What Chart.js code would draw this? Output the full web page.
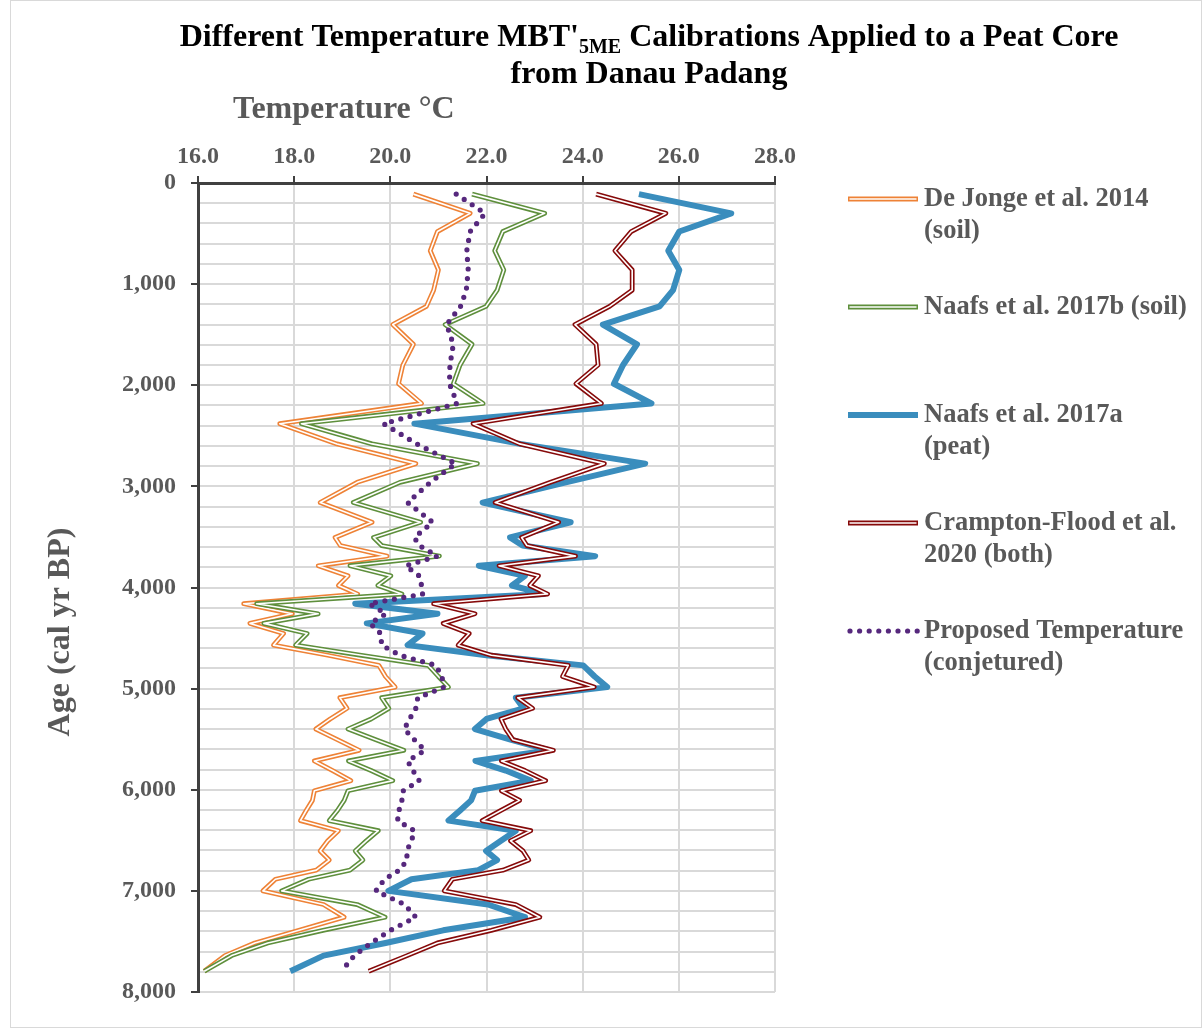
<!DOCTYPE html>
<html>
<head>
<meta charset="utf-8">
<title>MBT'5ME temperature calibrations – Danau Padang peat core</title>
<script src="https://cdn.jsdelivr.net/npm/chart.js@4.4.1/dist/chart.umd.min.js"></script>
<style>
  html, body { margin: 0; padding: 0; background: #ffffff; }
  #wrap { position: relative; width: 1204px; height: 1030px; }
  canvas { display: block; }
</style>
</head>
<body>
<div id="wrap"><canvas id="chart" width="1204" height="1030"></canvas></div>
<script>
// Sample ages (cal yr BP), shared by the four calibrations
const ages = [110, 300, 480, 670, 860, 1060, 1220, 1400, 1595, 1800, 1985, 2180, 2380, 2580, 2775,
  2960, 3160, 3355, 3505, 3585, 3690, 3785, 3885, 3980, 4065, 4160, 4260, 4355, 4455, 4570,
  4670, 4770, 4880, 4985, 5090, 5195, 5300, 5400, 5505, 5610, 5715, 5810, 5910, 6010, 6105,
  6205, 6305, 6405, 6505, 6605, 6695, 6795, 6885, 7000, 7135, 7260, 7390, 7515, 7640, 7795];

// De Jonge et al. 2014 (soil)
const deJonge2014 = [20.48, 21.66, 20.98, 20.83, 21.00, 20.90, 20.75, 20.05, 20.48, 20.26, 20.17, 20.65, 17.70, 18.89, 20.53,
  19.31, 18.54, 19.62, 18.85, 18.96, 19.93, 18.50, 19.12, 18.92, 19.32, 16.95, 17.96, 17.08, 17.78, 17.57,
  18.70, 19.76, 19.90, 20.10, 18.95, 19.10, 18.75, 18.45, 18.90, 19.35, 18.42, 18.80, 19.18, 18.42, 18.38,
  18.25, 18.13, 18.92, 18.70, 18.54, 18.73, 18.46, 17.61, 17.35, 18.61, 19.04, 18.10, 17.18, 16.56, 16.13];

// Naafs et al. 2017b (soil)
const naafs2017b = [21.70, 23.21, 22.34, 22.17, 22.36, 22.22, 21.99, 21.14, 21.70, 21.45, 21.31, 21.93, 18.15, 19.62, 21.81,
  20.20, 19.23, 20.63, 19.65, 19.82, 21.02, 19.16, 20.01, 19.74, 20.24, 17.22, 18.50, 17.37, 18.27, 18.03,
  19.40, 20.79, 21.00, 21.21, 19.82, 19.97, 19.60, 19.12, 19.70, 20.28, 19.13, 19.60, 20.05, 19.12, 19.04,
  18.90, 18.73, 19.75, 19.50, 19.27, 19.43, 19.16, 18.30, 17.74, 19.31, 19.89, 18.60, 17.45, 16.70, 16.13];

// Naafs et al. 2017a (peat)
const naafs2017a = [25.17, 27.09, 26.01, 25.78, 26.01, 25.88, 25.60, 24.42, 25.13, 24.84, 24.65, 25.43, 20.50, 22.70, 25.30,
  23.65, 21.92, 23.75, 22.49, 22.75, 24.26, 21.84, 22.80, 22.53, 23.20, 19.27, 20.98, 19.51, 20.67, 20.36,
  22.00, 24.01, 24.25, 24.51, 22.61, 22.77, 22.00, 21.76, 22.50, 23.31, 21.77, 22.40, 22.92, 21.76, 21.68,
  21.45, 21.21, 22.61, 22.30, 21.99, 22.22, 21.83, 20.44, 19.96, 22.03, 22.80, 21.10, 19.90, 18.61, 17.92];

// Crampton-Flood et al. 2020 (both)
const cramptonFlood2020 = [24.28, 25.73, 25.01, 24.67, 25.03, 25.03, 24.56, 23.84, 24.28, 24.32, 23.86, 24.39, 21.72, 22.69, 24.45,
  23.33, 22.18, 23.50, 22.73, 22.84, 23.85, 22.26, 23.08, 22.90, 23.27, 20.90, 21.76, 21.10, 21.64, 21.41,
  22.10, 23.70, 23.58, 24.24, 22.65, 22.96, 22.30, 22.40, 22.55, 23.39, 22.31, 22.80, 23.23, 22.31, 22.69,
  22.30, 21.91, 22.92, 22.50, 22.76, 22.88, 22.34, 21.29, 21.12, 22.61, 23.11, 22.10, 20.98, 20.35, 19.55];

// Proposed temperature (conjetured) and its ages
const proposedAges = [110, 300, 480, 670, 860, 1060, 1220, 1400, 1595, 1800, 1985, 2180, 2380, 2580, 2775,
  2960, 3160, 3355, 3505, 3585, 3690, 3785, 3885, 3980, 4065, 4160, 4260, 4355, 4455, 4570,
  4670, 4770, 4880, 4985, 5090, 5195, 5300, 5400, 5505, 5610, 5715, 5810, 5910, 6010, 6105,
  6205, 6305, 6405, 6505, 6605, 6695, 6795, 6885, 7000, 7135, 7260, 7390, 7515, 7640, 7750];
const proposed = [21.37, 21.97, 21.66, 21.59, 21.62, 21.58, 21.46, 21.17, 21.31, 21.24, 21.23, 21.39, 19.86, 20.55, 21.36,
  20.83, 20.36, 20.88, 20.50, 20.60, 20.98, 20.32, 20.60, 20.65, 20.67, 19.56, 19.91, 19.58, 19.80, 19.82,
  20.20, 20.95, 21.07, 21.12, 20.57, 20.53, 20.40, 20.29, 20.50, 20.72, 20.36, 20.47, 20.60, 20.27, 20.24,
  20.18, 20.15, 20.50, 20.44, 20.34, 20.35, 20.19, 19.88, 19.70, 20.30, 20.53, 20.00, 19.60, 19.25, 19.06];

// Axis ranges
const tempTicks = [16, 18, 20, 22, 24, 26, 28];
const ageTicks = [0, 1000, 2000, 3000, 4000, 5000, 6000, 7000, 8000];

const COLORS = {
  orange: '#EE8236',
  green: '#5E8F3C',
  blue: '#3A8DBD',
  red: '#860A0A',
  purple: '#56287D',
  text: '#595959',
  axis: '#404040',
  grid: '#D9D9D9'
};
const SERIF = '"Liberation Serif", "Times New Roman", serif';

function points(values, ys) {
  return values.map((v, i) => ({ x: v, y: ys[i] }));
}

const base = { showLine: true, pointRadius: 0, pointHoverRadius: 0, tension: 0, fill: false, borderJoinStyle: 'round' };

// Double (compound) line: a wide coloured stroke with a thin white core on top
function doubleLine(label, values, color, order) {
  return [
    Object.assign({}, base, { label, data: points(values, ages), borderColor: color, borderWidth: 4.8, order: order }),
    Object.assign({}, base, { label: label + ' core', data: points(values, ages), borderColor: '#ffffff', borderWidth: 1.6, order: order - 1 })
  ];
}

const datasets = [
  ...doubleLine('De Jonge et al. 2014 (soil)', deJonge2014, COLORS.orange, 10),
  ...doubleLine('Naafs et al. 2017b (soil)', naafs2017b, COLORS.green, 8),
  Object.assign({}, base, { label: 'Naafs et al. 2017a (peat)', data: points(naafs2017a, ages), borderColor: COLORS.blue, borderWidth: 6, order: 6 }),
  ...doubleLine('Crampton-Flood et al. 2020 (both)', cramptonFlood2020, COLORS.red, 5),
  Object.assign({}, base, { label: 'Proposed Temperature (conjetured)', data: points(proposed, proposedAges), borderColor: COLORS.purple, borderWidth: 5.2, borderDash: [0, 9.6], borderCapStyle: 'round', order: 2 })
];

const legendEntries = [
  { lines: ['De Jonge et al. 2014', '(soil)'], style: 'double', color: COLORS.orange },
  { lines: ['Naafs et al. 2017b (soil)'], style: 'double', color: COLORS.green },
  { lines: ['Naafs et al. 2017a', '(peat)'], style: 'solid', color: COLORS.blue },
  { lines: ['Crampton-Flood et al.', '2020 (both)'], style: 'double', color: COLORS.red },
  { lines: ['Proposed Temperature', '(conjetured)'], style: 'dotted', color: COLORS.purple }
];

const decorations = {
  id: 'decorations',
  afterDraw(chart) {
    const ctx = chart.ctx;
    ctx.save();

    // outer frame of the chart area
    ctx.strokeStyle = '#D9D9D9';
    ctx.lineWidth = 1;
    ctx.strokeRect(10.5, 0.5, 1191, 1027);

    // title, line 1 with subscript
    const big = 'bold 32px ' + SERIF;
    const small = 'bold 20px ' + SERIF;
    const parts = [
      { t: "Different Temperature MBT'", f: big, dy: 0 },
      { t: '5ME', f: small, dy: 7 },
      { t: ' Calibrations Applied to a Peat Core', f: big, dy: 0 }
    ];
    let total = 0;
    parts.forEach(p => { ctx.font = p.f; p.w = ctx.measureText(p.t).width; total += p.w; });
    const cx = 649;
    let x = cx - total / 2;
    ctx.fillStyle = '#000000';
    ctx.textBaseline = 'alphabetic';
    ctx.textAlign = 'left';
    parts.forEach(p => { ctx.font = p.f; ctx.fillText(p.t, x, 46 + p.dy); x += p.w; });
    ctx.font = big;
    ctx.textAlign = 'center';
    ctx.fillText('from Danau Padang', cx, 83);

    // axis titles
    ctx.fillStyle = COLORS.text;
    ctx.font = big;
    ctx.textAlign = 'left';
    ctx.fillText('Temperature °C', 233, 118);

    ctx.save();
    ctx.translate(61, 632);
    ctx.rotate(-Math.PI / 2);
    ctx.textAlign = 'center';
    ctx.textBaseline = 'middle';
    ctx.fillText('Age (cal yr BP)', 0, 0);
    ctx.restore();

    // legend
    const lx0 = 848, lx1 = 918, tx = 924;
    ctx.font = 'bold 26.5px ' + SERIF;
    ctx.textAlign = 'left';
    ctx.textBaseline = 'middle';
    legendEntries.forEach((e, i) => {
      const y = 199 + i * 108;
      ctx.save();
      ctx.lineCap = 'butt';
      if (e.style === 'double') {
        ctx.strokeStyle = e.color; ctx.lineWidth = 4.8;
        ctx.beginPath(); ctx.moveTo(lx0, y); ctx.lineTo(lx1, y); ctx.stroke();
        ctx.strokeStyle = '#ffffff'; ctx.lineWidth = 1.6;
        ctx.beginPath(); ctx.moveTo(lx0 + 1.5, y); ctx.lineTo(lx1 - 1.5, y); ctx.stroke();
      } else if (e.style === 'solid') {
        ctx.strokeStyle = e.color; ctx.lineWidth = 6;
        ctx.beginPath(); ctx.moveTo(lx0, y); ctx.lineTo(lx1, y); ctx.stroke();
      } else {
        ctx.strokeStyle = e.color; ctx.lineWidth = 5.2; ctx.lineCap = 'round';
        ctx.setLineDash([0, 9.6]);
        ctx.beginPath(); ctx.moveTo(lx0 + 2, y); ctx.lineTo(lx1, y); ctx.stroke();
      }
      ctx.restore();
      ctx.fillStyle = COLORS.text;
      e.lines.forEach((line, j) => ctx.fillText(line, tx, y + j * 32.5));
    });

    ctx.restore();
  }
};

new Chart(document.getElementById('chart'), {
  type: 'scatter',
  data: { datasets },
  options: {
    responsive: false,
    devicePixelRatio: 1,
    animation: false,
    events: [],
    layout: { padding: { left: 78, top: 143, right: 429, bottom: 38 } },
    plugins: { legend: { display: false }, title: { display: false }, tooltip: { enabled: false } },
    scales: {
      x: {
        type: 'linear',
        position: 'top',
        min: tempTicks[0],
        max: tempTicks[tempTicks.length - 1],
        afterBuildTicks: s => { s.ticks = tempTicks.map(v => ({ value: v })); },
        ticks: {
          callback: v => Number(v).toFixed(1),
          color: COLORS.text,
          font: { family: SERIF, size: 24, weight: 'bold' },
          padding: 5,
          maxRotation: 0,
          autoSkip: false
        },
        grid: { color: COLORS.grid, lineWidth: 2, tickLength: 7, tickColor: COLORS.axis, tickWidth: 2 },
        border: { color: COLORS.axis, width: 3 },
        afterFit: s => { s.height = 40; }
      },
      y: {
        type: 'linear',
        reverse: true,
        min: ageTicks[0],
        max: ageTicks[ageTicks.length - 1],
        ticks: {
          stepSize: 200,
          autoSkip: false,
          callback: v => (ageTicks.includes(v) ? v.toLocaleString('en-US') : ''),
          color: COLORS.text,
          font: { family: SERIF, size: 24, weight: 'bold' },
          padding: 15
        },
        grid: {
          color: COLORS.grid,
          lineWidth: 2,
          tickLength: 7,
          tickWidth: 2,
          tickColor: c => (c.tick && ageTicks.includes(c.tick.value) ? COLORS.axis : 'rgba(0,0,0,0)')
        },
        border: { color: COLORS.axis, width: 3 },
        afterFit: s => { s.width = 120; }
      }
    }
  },
  plugins: [decorations]
});
</script>
</body>
</html>
